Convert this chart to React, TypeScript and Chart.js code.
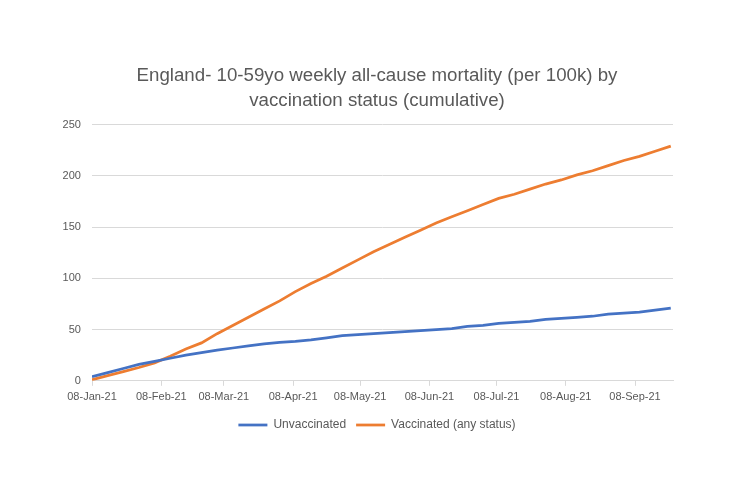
import React, { useEffect, useRef } from "react";
import { Chart, registerables } from "chart.js";

Chart.register(...registerables);

// weekly reporting dates
const weekDates = [
  "2021-01-08", "2021-01-15", "2021-01-22", "2021-01-29", "2021-02-05",
  "2021-02-12", "2021-02-19", "2021-02-26", "2021-03-05", "2021-03-12",
  "2021-03-19", "2021-03-26", "2021-04-02", "2021-04-09", "2021-04-16",
  "2021-04-23", "2021-04-30", "2021-05-07", "2021-05-14", "2021-05-21",
  "2021-05-28", "2021-06-04", "2021-06-11", "2021-06-18", "2021-06-25",
  "2021-07-02", "2021-07-09", "2021-07-16", "2021-07-23", "2021-07-30",
  "2021-08-06", "2021-08-13", "2021-08-20", "2021-08-27", "2021-09-03",
  "2021-09-10", "2021-09-17", "2021-09-24",
];

const unvaccinated = [
  4, 8, 12, 16, 19, 22, 25, 27.5, 30, 32, 34, 36, 37.5, 38.5, 40, 42, 44, 45,
  46, 47, 48, 49, 50, 51, 53, 54, 56, 57, 58, 60, 61, 62, 63, 65, 66, 67, 69, 71,
];

const vaccinated = [
  1, 5, 9, 13, 17.5, 24, 31, 37, 46, 54, 62, 70, 78, 87, 95, 102, 110, 118,
  126, 133, 140, 147, 154, 160, 166, 172, 178, 182, 187, 192, 196, 201, 205,
  210, 215, 219, 224, 229,
];

const tickDates = [
  "2021-01-08", "2021-02-08", "2021-03-08", "2021-04-08", "2021-05-08",
  "2021-06-08", "2021-07-08", "2021-08-08", "2021-09-08",
];
const tickLabels = [
  "08-Jan-21", "08-Feb-21", "08-Mar-21", "08-Apr-21", "08-May-21",
  "08-Jun-21", "08-Jul-21", "08-Aug-21", "08-Sep-21",
];

const titleLines = [
  "England- 10-59yo weekly all-cause mortality (per 100k) by",
  "vaccination status (cumulative)",
];

const dayOffset = (d: string) =>
  (Date.parse(d) - Date.parse(weekDates[0])) / 86400000;

const FONT = "'Liberation Sans', Arial, sans-serif";

const App = () => {
  const chartRef: any = useRef(null);
  const chartInstance: any = useRef(null);

  useEffect(() => {
    if (!chartRef.current) return;
    const ctx = chartRef.current.getContext("2d");
    const xs = weekDates.map(dayOffset);
    const tickXs = tickDates.map(dayOffset);

    chartInstance.current = new Chart(ctx, {
      type: "line",
      data: {
        datasets: [
          {
            label: "Unvaccinated",
            data: unvaccinated.map((v, i) => ({ x: xs[i], y: v })),
            borderColor: "#4472C4",
            backgroundColor: "#4472C4",
            borderWidth: 2.75,
            pointRadius: 0,
            tension: 0,
          },
          {
            label: "Vaccinated (any status)",
            data: vaccinated.map((v, i) => ({ x: xs[i], y: v })),
            borderColor: "#ED7D31",
            backgroundColor: "#ED7D31",
            borderWidth: 2.75,
            pointRadius: 0,
            tension: 0,
          },
        ],
      },
      options: {
        animation: false,
        responsive: true,
        maintainAspectRatio: false,
        layout: { padding: { top: 64, bottom: 55, left: 81, right: 65 } },
        plugins: {
          title: {
            display: true,
            text: titleLines,
            color: "#595959",
            font: { family: FONT, size: 18.7, weight: "normal", lineHeight: 1.3 },
            padding: { top: 0, bottom: 12 },
          },
          legend: {
            position: "bottom",
            labels: {
              color: "#595959",
              font: { family: FONT, size: 12 },
              usePointStyle: true,
              pointStyle: "line",
              pointStyleWidth: 29,
              boxHeight: 8,
              padding: 10,
            },
          },
          tooltip: { enabled: false },
        },
        scales: {
          x: {
            type: "linear",
            min: 0,
            max: dayOffset(weekDates[weekDates.length - 1]) + 1,
            afterBuildTicks: (axis: any) => {
              axis.ticks = tickXs.map((v) => ({ value: v }));
            },
            ticks: {
              color: "#595959",
              font: { family: FONT, size: 11 },
              maxRotation: 0,
              autoSkip: false,
              padding: 5,
              callback: (v: any) => tickLabels[tickXs.indexOf(v)] ?? "",
            },
            grid: {
              display: true,
              drawOnChartArea: false,
              drawTicks: true,
              tickLength: 5,
              color: "#d9d9d9",
            },
            border: { color: "#d9d9d9" },
          },
          y: {
            min: 0,
            max: 250,
            afterFit: (axis: any) => {
              axis.width = 11;
            },
            ticks: {
              stepSize: 50,
              color: "#595959",
              font: { family: FONT, size: 11 },
              mirror: true,
              crossAlign: "far",
              padding: -29.4,
            },
            grid: { color: "#d9d9d9", drawTicks: false },
            border: { display: false },
          },
        },
      },
    });

    return () => {
      if (chartInstance.current) {
        chartInstance.current.destroy();
      }
    };
  }, []);

  return (
    <div
      style={{
        position: "fixed",
        left: 0,
        top: 0,
        width: 738,
        height: 496,
        background: "#fff",
      }}
    >
      <canvas ref={chartRef}></canvas>
    </div>
  );
};

export default App;
